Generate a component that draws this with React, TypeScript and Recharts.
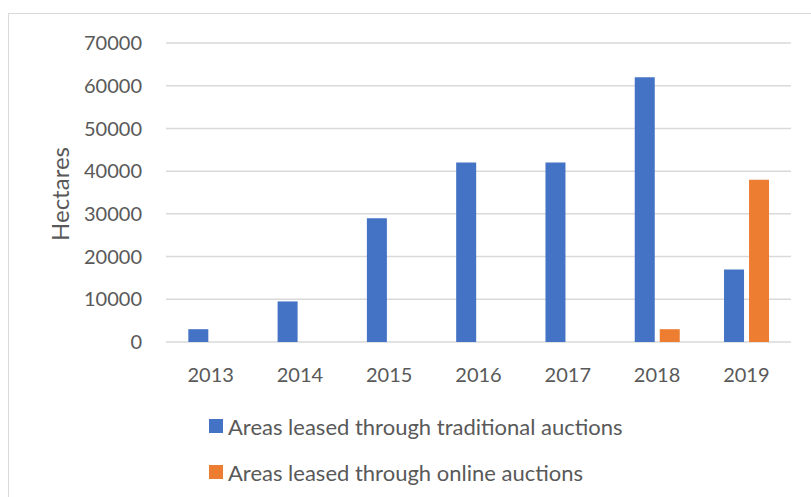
import React from "react";
import { BarChart, Bar, XAxis, YAxis, CartesianGrid } from "recharts";

const years = ["2013", "2014", "2015", "2016", "2017", "2018", "2019"];
const traditional = [3000, 9500, 29000, 42000, 42000, 62000, 17000];
const online = [0, 0, 0, 0, 0, 3000, 38000];
const yTicks = [0, 10000, 20000, 30000, 40000, 50000, 60000, 70000];
const seriesNames = ["Areas leased through traditional auctions", "Areas leased through online auctions"];
const seriesColors = ["#4472C4", "#ED7D31"];
const yLabel = "Hectares";

const data = years.map((y, i) => ({ year: y, traditional: traditional[i], online: online[i] }));

const FONT = "Lato, 'Open Sans', sans-serif";
const TEXT = "#595959";

export default function App() {
  return (
    <div style={{ position: "absolute", left: 0, top: 0, width: 811, height: 497, background: "#fff", overflow: "hidden", fontFamily: FONT }}>
      <div style={{ position: "absolute", left: 8, top: 13, width: 830, height: 520, border: "1.5px solid #d9d9d9", boxSizing: "border-box" }} />
      <BarChart
        width={811}
        height={497}
        data={data}
        margin={{ top: 43, right: 20, bottom: 115, left: 66 }}
        barCategoryGap="25%"
        barGap={5}
      >
        <CartesianGrid vertical={false} stroke="#d9d9d9" strokeWidth={1.5} />
        <XAxis
          dataKey="year"
          axisLine={false}
          tickLine={false}
          tickSize={0}
          tickMargin={26}
          height={40}
          tick={{ fill: TEXT, fontSize: 20, fontFamily: FONT }}
        />
        <YAxis
          width={100}
          domain={[0, 70000]}
          ticks={yTicks}
          axisLine={false}
          tickLine={false}
          tickSize={0}
          tickMargin={24}
          tick={{ fill: TEXT, fontSize: 20, fontFamily: FONT }}
        />
        <Bar dataKey="traditional" fill={seriesColors[0]} isAnimationActive={false} />
        <Bar dataKey="online" fill={seriesColors[1]} isAnimationActive={false} />
      </BarChart>
      <div
        style={{
          position: "absolute",
          left: 59,
          top: 194,
          transform: "translate(-50%, -50%) rotate(-90deg)",
          color: TEXT,
          fontSize: 24,
          whiteSpace: "nowrap",
        }}
      >
        {yLabel}
      </div>
      {seriesNames.map((name, i) => (
        <div
          key={name}
          style={{
            position: "absolute",
            left: 209,
            top: 426 + i * 46 - 14,
            height: 28,
            display: "flex",
            alignItems: "center",
            color: TEXT,
            fontSize: 22,
            whiteSpace: "nowrap",
          }}
        >
          <span style={{ display: "inline-block", width: 14, height: 14, background: seriesColors[i], marginRight: 5 }} />
          {name}
        </div>
      ))}
    </div>
  );
}
